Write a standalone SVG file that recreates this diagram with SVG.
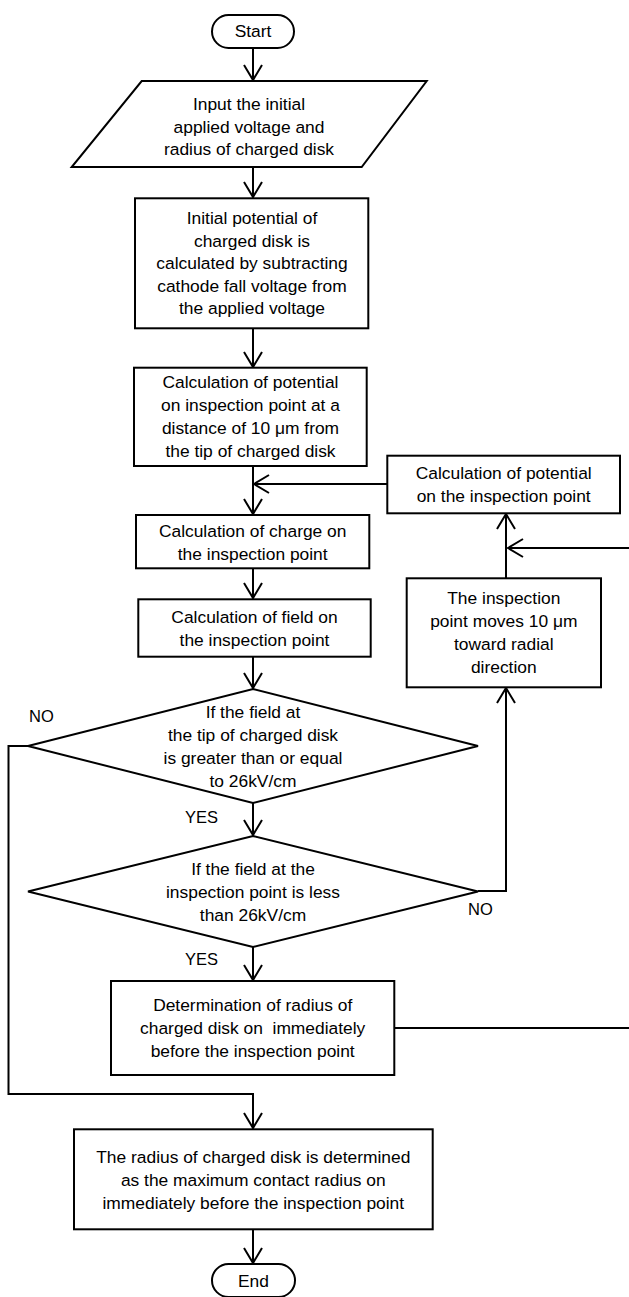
<svg xmlns="http://www.w3.org/2000/svg" width="629" height="1297" viewBox="0 0 629 1297">
<style>
.s{fill:#fff;stroke:#000;stroke-width:2}
.t{font-family:"Liberation Sans",Arial,sans-serif;font-size:17.4px;fill:#000;text-anchor:middle}
.l{font-family:"Liberation Sans",Arial,sans-serif;font-size:16.5px;fill:#000}
.c{fill:none;stroke:#000;stroke-width:2}
</style>
<defs>
<marker id="a" markerUnits="userSpaceOnUse" markerWidth="20" markerHeight="20" refX="16" refY="10" orient="auto" overflow="visible">
<path d="M1,1 L16,10 L1,19" fill="none" stroke="#000" stroke-width="2"/>
</marker>
</defs>
<rect width="629" height="1297" fill="#fff"/>
<g id="connectors">
<path class="c" d="M253,48 V80" marker-end="url(#a)"/>
<path class="c" d="M253,167 V197" marker-end="url(#a)"/>
<path class="c" d="M253,328 V367" marker-end="url(#a)"/>
<path class="c" d="M253,466 V514" marker-end="url(#a)"/>
<path class="c" d="M387,484 H254" marker-end="url(#a)"/>
<path class="c" d="M253,568 V598" marker-end="url(#a)"/>
<path class="c" d="M253,657 V688" marker-end="url(#a)"/>
<path class="c" d="M253,803 V835" marker-end="url(#a)"/>
<path class="c" d="M28,746 H8.5 V1094 H253 V1128" marker-end="url(#a)"/>
<path class="c" d="M478,891 H506 V688" marker-end="url(#a)"/>
<path class="c" d="M506,578 V514" marker-end="url(#a)"/>
<path class="c" d="M253,947 V980" marker-end="url(#a)"/>
<path class="c" d="M394,1028 H633 V548 H508" marker-end="url(#a)"/>
<path class="c" d="M253,1229 V1263" marker-end="url(#a)"/>
</g>
<g id="start">
<rect class="s" x="212" y="15" width="82" height="33" rx="16.5"/>
<text class="t" x="253" y="37">Start</text>
</g>
<g id="input">
<polygon class="s" points="141.7,81 426.7,81 361.7,167 71.7,167"/>
<text class="t" x="249" y="110">Input the initial</text>
<text class="t" x="249" y="132.5">applied voltage and</text>
<text class="t" x="249" y="155">radius of charged disk</text>
</g>
<g id="initial-potential">
<rect class="s" x="135" y="198.3" width="233.3" height="130"/>
<text class="t" x="252" y="224">Initial potential of</text>
<text class="t" x="252" y="246.5">charged disk is</text>
<text class="t" x="252" y="269">calculated by subtracting</text>
<text class="t" x="252" y="291.5">cathode fall voltage from</text>
<text class="t" x="252" y="314">the applied voltage</text>
</g>
<g id="calc-potential-initial">
<rect class="s" x="134" y="367.7" width="232.7" height="98.3"/>
<text class="t" x="250.5" y="388">Calculation of potential</text>
<text class="t" x="250.5" y="411">on inspection point at a</text>
<text class="t" x="250.5" y="434">distance of 10 μm from</text>
<text class="t" x="250.5" y="457">the tip of charged disk</text>
</g>
<g id="calc-potential-loop">
<rect class="s" x="387.3" y="455.7" width="232.7" height="57.6"/>
<text class="t" x="503.7" y="478.5">Calculation of potential</text>
<text class="t" x="503.7" y="501.5">on the inspection point</text>
</g>
<g id="calc-charge">
<rect class="s" x="136" y="515" width="233.3" height="53.3"/>
<text class="t" x="252.7" y="537.3">Calculation of charge on</text>
<text class="t" x="252.7" y="560">the inspection point</text>
</g>
<g id="calc-field">
<rect class="s" x="138.3" y="599.3" width="232.4" height="57.4"/>
<text class="t" x="254.5" y="623.3">Calculation of field on</text>
<text class="t" x="254.5" y="645.5">the inspection point</text>
</g>
<g id="move-point">
<rect class="s" x="406.7" y="578.3" width="194.3" height="109"/>
<text class="t" x="503.8" y="604">The inspection</text>
<text class="t" x="503.8" y="627">point moves 10 μm</text>
<text class="t" x="503.8" y="650">toward radial</text>
<text class="t" x="503.8" y="673">direction</text>
</g>
<g id="decision-tip">
<polygon class="s" points="253,689 478,746 253,803 28,746"/>
<text class="t" x="253" y="718">If the field at</text>
<text class="t" x="253" y="741">the tip of charged disk</text>
<text class="t" x="253" y="764">is greater than or equal</text>
<text class="t" x="253" y="787">to 26kV/cm</text>
</g>
<g id="decision-point">
<polygon class="s" points="253,836 478,891.5 253,947 28,891.5"/>
<text class="t" x="253" y="875">If the field at the</text>
<text class="t" x="253" y="898">inspection point is less</text>
<text class="t" x="253" y="921">than 26kV/cm</text>
</g>
<g id="labels">
<text class="l" x="29" y="722">NO</text>
<text class="l" x="185" y="823">YES</text>
<text class="l" x="185" y="965">YES</text>
<text class="l" x="468" y="915">NO</text>
</g>
<g id="determination">
<rect class="s" x="111" y="981" width="283.3" height="94"/>
<text class="t" x="252.7" y="1011">Determination of radius of</text>
<text class="t" x="252.7" y="1034">charged disk on&#160; immediately</text>
<text class="t" x="252.7" y="1057">before the inspection point</text>
</g>
<g id="final">
<rect class="s" x="74" y="1129.3" width="358.7" height="100"/>
<text class="t" x="253.3" y="1163">The radius of charged disk is determined</text>
<text class="t" x="253.3" y="1186">as the maximum contact radius on</text>
<text class="t" x="253.3" y="1209">immediately before the inspection point</text>
</g>
<g id="end">
<rect class="s" x="212" y="1264" width="83" height="33" rx="16.5"/>
<text class="t" x="253.5" y="1287">End</text>
</g>
</svg>
